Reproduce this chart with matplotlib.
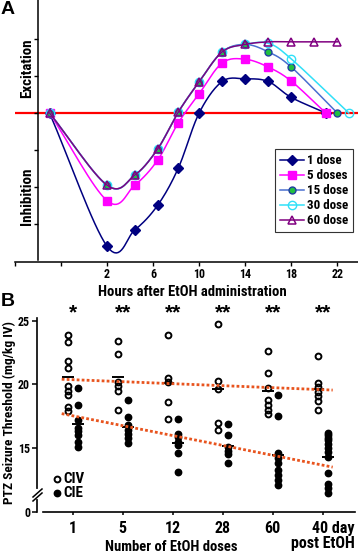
import numpy as np
import matplotlib
matplotlib.use('Agg')
import matplotlib.pyplot as plt
from matplotlib.lines import Line2D
from matplotlib import font_manager

# look for a narrow *bold* font, fall back to Liberation Sans (arial metrics)
fonts = font_manager.fontManager.ttflist


def is_bold(f):
    w = f.weight
    if isinstance(w, str):
        return w in ('bold', 'heavy', 'extra bold', 'black', 'demibold', 'semibold')
    return w >= 600


def is_narrow(f):
    return ('Narrow' in f.name or 'Condensed' in f.name
            or str(f.stretch) in ('condensed', 'semi-condensed', 'extra-condensed'))


cands = [f for f in fonts if is_narrow(f) and is_bold(f)]
pref = ['Liberation Sans Narrow', 'Arial Narrow', 'Roboto Condensed', 'DejaVu Sans']
cands.sort(key=lambda f: pref.index(f.name) if f.name in pref else len(pref))
if cands:
    fam = cands[0].name
    stretch = str(cands[0].stretch) if fam == 'DejaVu Sans' else 'normal'
else:
    fam, stretch = 'Liberation Sans', 'normal'
plt.rcParams['font.family'] = [fam, 'DejaVu Sans']
plt.rcParams['font.stretch'] = stretch
plt.rcParams['font.weight'] = 'bold'
ARIAL = ['Liberation Sans', 'DejaVu Sans']

# ---- panel A data (arbitrary excitation/inhibition units) ----
hours_a = [-3, 2, 4.4, 6.4, 8.2, 10, 12, 14, 16, 18, 21]
dose1 = [0, -3.6, -3.16, -2.49, -1.48, 0, 0.85, 0.92, 0.85, 0.42, 0]
dose5 = [0, -2.37, -1.95, -1.27, -0.26, 0.52, 1.35, 1.45, 1.24, 0.86, 0]
hours_15 = [-3, 2, 4.4, 6.4, 8.2, 10, 12, 14, 16, 18, 22]
dose15 = [0, -1.95, -1.68, -0.97, 0.03, 0.84, 1.65, 1.85, 1.65, 1.24, 0]
hours_30 = [-3, 2, 4.4, 6.4, 8.2, 10, 12, 14, 16, 18, 23]
dose30 = [0, -1.95, -1.68, -0.97, 0.03, 0.84, 1.65, 1.85, 1.88, 1.46, 0]
hours_60 = [-3, 2, 4.4, 6.4, 8.2, 10, 12, 14, 16, 18, 20, 22]
dose60 = [0, -1.95, -1.68, -0.97, 0.03, 0.84, 1.65, 1.85, 1.92, 1.92, 1.92, 1.92]
hour_ticks = [-6, -2, 2, 6, 10, 14, 18, 22]
hour_labels = ['', '', '2', '6', '10', '14', '18', '22']

# ---- panel B data (PTZ threshold, mg/kg IV) ----
dose_cats = ['1', '5', '12', '28', '60', '40 day\npost EtOH']
civ = [
    [23.9, 23.35, 21.8, 21.3, 19.85, 19.5, 19.15, 18.25, 17.9],
    [23.4, 22.35, 20.2, 19.9, 19.5, 18.0],
    [23.9, 20.5, 20.2, 18.6, 17.3],
    [24.7, 20.3, 19.6, 17.0, 16.4],
    [22.6, 20.9, 19.7, 18.8, 18.4, 18.0, 17.7],
    [22.2, 20.1, 19.8, 19.4, 19.1, 18.7, 18.0],
]
cie = [
    [19.7, 18.4, 17.2, 16.6, 16.3, 16.0, 15.5, 15.1],
    [18.8, 17.4, 16.8, 16.4, 16.1, 15.8, 15.4],
    [17.3, 16.1, 15.9, 15.5, 15.2, 14.6, 13.1],
    [16.9, 16.0, 15.1, 14.8, 14.5, 13.8],
    [19.2, 17.5, 14.6, 14.2, 13.8, 13.3, 12.9, 12.5, 12.1],
    [16.2, 16.0, 15.8, 15.6, 15.3, 15.0, 14.7, 14.3, 13.0, 12.2, 11.9, 11.5],
]
stars = ['*', '**', '**', '**', '**', '**']
trend_x = [-0.22, 5.2]
civ_trend = [20.4, 19.55]
cie_trend = [17.7, 13.5]

W, H = 358, 554


def fx(px):
    return px / W


def fy(py):
    return 1 - py / H


def smooth(x, y, n=16):
    # catmull-rom, like the excel smoothed line
    p = np.column_stack([x, y]).astype(float)
    p = np.vstack([2 * p[0] - p[1], p, 2 * p[-1] - p[-2]])
    t = np.linspace(0, 1, n, endpoint=False)[:, None]
    out = []
    for i in range(1, len(p) - 2):
        p0, p1, p2, p3 = p[i - 1], p[i], p[i + 1], p[i + 2]
        out.append(0.5 * (2 * p1 + (-p0 + p2) * t + (2 * p0 - 5 * p1 + 4 * p2 - p3) * t ** 2
                          + (-p0 + 3 * p1 - 3 * p2 + p3) * t ** 3))
    out.append(p[-2][None])
    out = np.vstack(out)
    return out[:, 0], out[:, 1]


fig = plt.figure(figsize=(W / 100, H / 100), dpi=100)

# ================= A =================
axA = fig.add_axes([fx(15), fy(260), fx(358) - fx(15), fy(0) - fy(260)])
axA.set_xlim(-6, 23.8)
axA.set_ylim(-3.97, 3.05)
axA.axhline(0, color='#ff0000', lw=1.6, zorder=1)

series = [
    (hours_a, dose1, '1 dose', dict(color='#000080', marker='D', ms=5.5, mfc='#000080', mec='#000080')),
    (hours_a, dose5, '5 doses', dict(color='#ff00ff', marker='s', ms=5.5, mfc='#ff00ff', mec='#ff00ff')),
    (hours_15, dose15, '15 dose', dict(color='#4a6fd0', marker='o', ms=5, mfc='#22c040', mec='#1f3f9f', mew=1.0)),
    (hours_30, dose30, '30 dose', dict(color='#30e0f8', marker='o', ms=6, mfc='none', mec='#30e0f8', mew=1.0)),
    (hours_60, dose60, '60 dose', dict(color='#800080', marker='^', ms=6, mfc='none', mec='#800080', mew=1.1)),
]
handles = []
for k, (hx, hy, lab, st) in enumerate(series):
    sx, sy = smooth(hx, hy)
    axA.plot(sx, sy, color=st['color'], lw=1.1, zorder=2 + k)
    mk = {kk: v for kk, v in st.items() if kk != 'color'}
    axA.plot(hx, hy, ls='none', zorder=2.5 + k, **mk)
    handles.append(Line2D([], [], color=st['color'], lw=1.1, label=lab, **mk))

axA.spines['top'].set_visible(False)
axA.spines['right'].set_visible(False)
axA.spines['left'].set_position(('data', -4))
axA.spines['bottom'].set_position(('outward', 1.5))
for s in ['left', 'bottom']:
    axA.spines[s].set_linewidth(1.1)
axA.set_yticks([-3, -2, -1, 0, 1, 2])
axA.set_yticklabels([])
axA.set_xticks(hour_ticks)
axA.set_xticklabels(hour_labels)
axA.tick_params(axis='both', length=3, width=1.0, direction='out', labelsize=9, pad=1.5)

leg = axA.legend(handles=handles, loc='upper left', bbox_to_anchor=(fx(275), fy(149)),
                 bbox_transform=fig.transFigure, borderaxespad=0, fancybox=False,
                 edgecolor='#333333', framealpha=1, fontsize=8, handlelength=2.2,
                 handletextpad=0.25, labelspacing=0.18, borderpad=0.45)
leg.get_frame().set_linewidth(0.8)

t_exc = fig.text(fx(27), fy(68), 'Excitation', rotation=90, ha='center', va='center', fontsize=9)
t_inh = fig.text(fx(27), fy(196), 'Inhibition', rotation=90, ha='center', va='center', fontsize=9)
t_xa = fig.text(fx(192), fy(292), 'Hours after EtOH administration', ha='center', va='center',
                fontsize=9)
fig.text(fx(1), fy(10), 'A', ha='left', va='center', fontsize=14, family=ARIAL)

# ================= B =================
axB = fig.add_axes([fx(37), fy(511.7), fx(358) - fx(37), fy(312) - fy(511.7)])
axB.set_xlim(-0.714, 5.706)
axB.set_ylim(10, 25.68)

xs = np.arange(len(dose_cats))
for i in xs:
    h_civ, = axB.plot(np.full(len(civ[i]), i - 0.1), civ[i], ls='none', marker='o', ms=4.2,
                      mfc='none', mec='black', mew=1.4, zorder=3)
    h_cie, = axB.plot(np.full(len(cie[i]), i + 0.1), cie[i], ls='none', marker='o', ms=4.6,
                      mfc='black', mec='black', zorder=3)
    axB.hlines(np.mean(civ[i]), i - 0.22, i + 0.02, color='black', lw=1.4, zorder=4)
    axB.hlines(np.mean(cie[i]), i - 0.02, i + 0.22, color='black', lw=1.4, zorder=4)
    axB.text(i, 25.6, stars[i], ha='center', va='center', fontsize=15, clip_on=False,
             family=ARIAL)

axB.plot(trend_x, civ_trend, color='#e8541e', lw=2.0, ls=(0, (1, 0.8)), zorder=5)
axB.plot(trend_x, cie_trend, color='#e8541e', lw=2.0, ls=(0, (1, 0.8)), zorder=5)

axB.spines['top'].set_visible(False)
axB.spines['right'].set_visible(False)
axB.spines['left'].set_bounds(10, 25.2)
axB.spines['bottom'].set_bounds(-0.594, 5.646)
for s in ['left', 'bottom']:
    axB.spines[s].set_linewidth(1.2)
axB.set_yticks([10, 15, 20, 25])
axB.set_yticklabels(['0', '15', '20', '25'])
axB.set_xticks(xs)
axB.set_xticklabels(dose_cats, multialignment='right', linespacing=1.05)
axB.tick_params(axis='y', length=3.5, width=1.1, labelsize=9, pad=1.5)
axB.tick_params(axis='x', length=2.5, width=1.1, labelsize=9, pad=4)

# axis break on the y spine
fig.add_artist(Line2D([fx(37), fx(37)], [fy(497), fy(491)], color='white', lw=3))
fig.add_artist(Line2D([fx(33), fx(42)], [fy(497), fy(489)], color='black', lw=1.1))
fig.add_artist(Line2D([fx(33), fx(42)], [fy(501), fy(493)], color='black', lw=1.1))

legB = axB.legend([h_civ, h_cie], ['CIV', 'CIE'], loc='upper left', bbox_to_anchor=(fx(54), fy(472)),
                  bbox_transform=fig.transFigure, frameon=False, handlelength=0.5,
                  handletextpad=0.25, labelspacing=0.0, borderaxespad=0, borderpad=0, fontsize=9)

t_yb = fig.text(fx(9), fy(413), 'PTZ Seizure Threshold (mg/kg IV)', rotation=90,
                ha='center', va='center', fontsize=9)
t_xb = fig.text(fx(171), fy(547), 'Number of EtOH doses', ha='center', va='center', fontsize=9)
fig.text(fx(1), fy(301), 'B', ha='left', va='center', fontsize=14, family=ARIAL)

# size the texts to the widths they have in the original (narrow bold face)
fig.canvas.draw()
rend = fig.canvas.get_renderer()


def fit(texts, ref, target, vertical=False):
    bb = ref.get_window_extent(rend)
    size = bb.height if vertical else bb.width
    new = ref.get_fontsize() * target / size
    for t in texts:
        t.set_fontsize(new)


fit([t_exc], t_exc, 60, vertical=True)
fit([t_inh], t_inh, 58, vertical=True)
fit([t_xa], t_xa, 190)
fit([t_xb], t_xb, 132)
fit([t_yb], t_yb, 183, vertical=True)
fit(leg.get_texts(), leg.get_texts()[1], 41)
fit(legB.get_texts(), legB.get_texts()[0], 21)
fit(axA.get_xticklabels(), axA.get_xticklabels()[-1], 12)
fit(axB.get_xticklabels(), axB.get_xticklabels()[-1], 64)
fit(axB.get_yticklabels(), axB.get_yticklabels()[-1], 12)

fig.savefig('out.png', dpi=100)
